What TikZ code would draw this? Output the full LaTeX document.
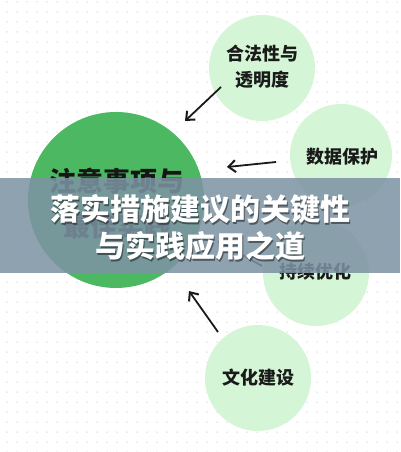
\documentclass[tikz,border=0pt]{standalone}
\usepackage{fontspec}
\newfontfamily\cjk{Noto Sans CJK SC}
\usetikzlibrary{arrows.meta}
\definecolor{biggreen}{HTML}{4DB862}
\definecolor{lightgreen}{HTML}{D5F6D6}
\definecolor{banner}{HTML}{7D93A4}
\definecolor{dotgray}{HTML}{D8D8D8}
\definecolor{ink}{HTML}{1A1A1A}
\tikzset{
  bigc/.style={circle, fill=biggreen, minimum size=176pt, inner sep=0pt},
  smallc/.style={circle, fill=lightgreen, minimum size=106pt, inner sep=0pt},
  lbl/.style={font=\cjk\bfseries\fontsize{18}{26}\selectfont, text=ink, align=center},
  biglbl/.style={font=\cjk\bfseries\fontsize{27}{45}\selectfont, text=ink!85!black, align=center},
  arr/.style={-{Straight Barb[length=7pt,width=12pt,line width=2pt]}, line width=1.8pt, ink},
  title/.style={font=\cjk\bfseries\fontsize{30}{37}\selectfont, align=center},
}
\begin{document}
\begin{tikzpicture}[x=1pt,y=-1pt]
\useasboundingbox (0,0) rectangle (400,452);
\fill[white] (0,0) rectangle (400,452);
% dot grid
\foreach \i in {0,...,39}{
  \foreach \j in {0,...,45}{
    \fill[dotgray] (7+\i*10, 2+\j*10) circle (0.75pt);
  }
}
% circles
\node[bigc] (main) at (116,200) {};
\node[biglbl] (mainlbl) at (117,204) {注意事项与\\最佳实践};
\node[smallc] (legal) at (262,68) {};
\node[lbl] (legallbl) at (262,67) {合法性与\\透明度};
\node[smallc, minimum size=102pt] (data) at (341,155) {};
\node[lbl] (datalbl) at (342,157) {数据保护};
\node[smallc] (opt) at (316,273) {};
\node[lbl] (optlbl) at (315,272) {持续优化};
\node[smallc] (culture) at (258,378) {};
\node[lbl] (culturelbl) at (258,378) {文化建设};
% arrows
\coordinate (a1s) at (221,87);  \coordinate (a1e) at (185,121);
\coordinate (a2s) at (276,162); \coordinate (a2e) at (227,167);
\coordinate (a3s) at (262,266); \coordinate (a3e) at (218,241);
\coordinate (a4s) at (218,332); \coordinate (a4e) at (189,291);
\draw[arr] (a1s) -- (a1e);
\draw[arr] (a2s) -- (a2e);
\draw[arr] (a3s) -- (a3e);
\draw[arr] (a4s) -- (a4e);
% banner
\fill[banner, opacity=0.86] (0,178) rectangle (400,273);
\node[title, text=black, opacity=0.45] (tshadow) at (201.5,229.5) {落实措施建议的关键性\\与实践应用之道};
\node[title, text=white] (ttext) at (200,228) {落实措施建议的关键性\\与实践应用之道};
\end{tikzpicture}
\end{document}
